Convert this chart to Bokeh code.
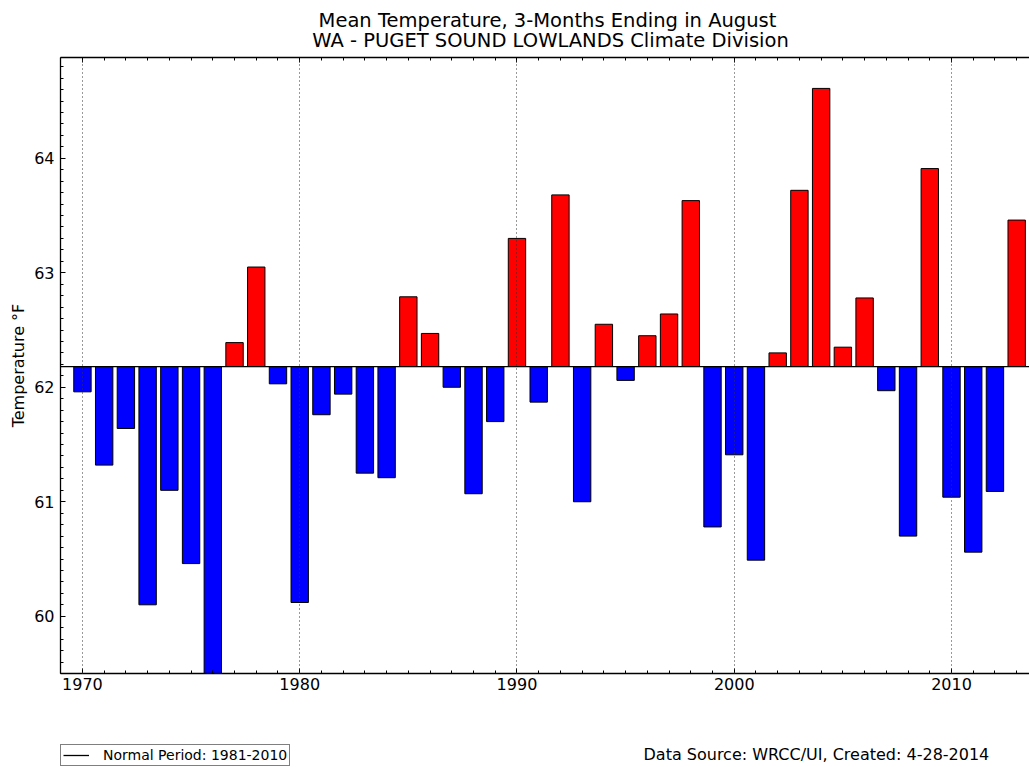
import numpy as np
from bokeh.plotting import figure
from bokeh.layouts import column
from bokeh.models import (Range1d, LinearAxis, SingleIntervalTicker, Label,
                          Legend, LegendItem, ColumnDataSource)
from bokeh.embed import file_html
from bokeh.resources import INLINE

# ---- data ----
years = list(range(1970, 2014))
temps = [61.96, 61.32, 61.64, 60.10, 61.10, 60.46, 59.40, 62.39, 63.05, 62.03,
         60.12, 61.76, 61.94, 61.25, 61.21, 62.79, 62.47, 62.00, 61.07, 61.70,
         63.30, 61.87, 63.68, 61.00, 62.55, 62.06, 62.45, 62.64, 63.63, 60.78,
         61.41, 60.49, 62.30, 63.72, 64.61, 62.35, 62.78, 61.97, 60.70, 63.91,
         61.04, 60.56, 61.09, 63.46]
normal_period = (1981, 2010)
title_line1 = "Mean Temperature, 3-Months Ending in August"
title_line2 = "WA - PUGET SOUND LOWLANDS Climate Division"
y_label = "Temperature °F"
legend_label = "Normal Period: 1981-2010"
source_note = "Data Source: WRCC/UI, Created: 4-28-2014"

normal = float(np.mean([t for y, t in zip(years, temps)
                        if normal_period[0] <= y <= normal_period[1]]))
colors = ["#ff0000" if t > normal else "#0000ff" for t in temps]
src = ColumnDataSource(dict(year=years, temp=temps, color=colors))

FONT = "DejaVu Sans"
W, LEFT = 1029, 60
TOP_H, MAIN_H, BOT_H = 56, 644, 67


def strip(h):
    f = figure(width=W, height=h, title=None, output_backend="svg",
               toolbar_location=None,
               x_range=Range1d(LEFT, W), y_range=Range1d(0, h),
               x_axis_type=None, y_axis_type=None,
               min_border_left=LEFT, min_border_right=0,
               min_border_top=0, min_border_bottom=0)
    f.outline_line_color = None
    f.xgrid.visible = False
    f.ygrid.visible = False
    f.background_fill_color = "white"
    f.border_fill_color = "white"
    return f


# ---- title strip (page px coordinates, y measured from strip bottom) ----
t = strip(TOP_H)
t.add_layout(Label(x=547, y=36, text=title_line1, text_align="center",
                   text_baseline="alphabetic", text_font=FONT,
                   text_font_size="19.5px", text_color="black"))
t.add_layout(Label(x=550, y=16, text=title_line2, text_align="center",
                   text_baseline="alphabetic", text_font=FONT,
                   text_font_size="19.5px", text_color="black"))

# ---- main chart ----
p = figure(width=W, height=MAIN_H, title=None, output_backend="svg",
           toolbar_location=None,
           x_range=Range1d(1968.99, 2013.59), y_range=Range1d(59.5, 64.88),
           min_border_left=LEFT, min_border_right=0, min_border_top=1,
           min_border_bottom=27)
p.outline_line_color = None
p.background_fill_color = "white"
p.border_fill_color = "white"

p.vbar(x="year", width=0.8, bottom=normal, top="temp", fill_color="color",
       line_color="black", line_width=1, source=src)
p.line(x=[years[0] - 1, years[-1] + 1], y=[normal, normal],
       line_color="black", line_width=1.3)

p.xaxis.ticker = SingleIntervalTicker(interval=10, num_minor_ticks=10)
p.yaxis.ticker = SingleIntervalTicker(interval=1, num_minor_ticks=10)

for ax in (p.xaxis[0], p.yaxis[0]):
    ax.major_tick_in = 5
    ax.major_tick_out = 0
    ax.minor_tick_in = 3
    ax.minor_tick_out = 0
    ax.axis_line_color = "black"
    ax.axis_line_width = 1.3
    ax.major_tick_line_color = "black"
    ax.minor_tick_line_color = "black"
    ax.major_label_text_font = FONT
    ax.major_label_text_font_size = "16px"
    ax.major_label_text_color = "black"

p.xaxis.major_label_standoff = 4
p.yaxis.major_label_standoff = 6
p.yaxis.axis_label = y_label
p.yaxis.axis_label_text_font = FONT
p.yaxis.axis_label_text_font_size = "16px"
p.yaxis.axis_label_text_font_style = "normal"
p.yaxis.axis_label_text_color = "black"
p.yaxis.axis_label_standoff = 3

top = LinearAxis(ticker=SingleIntervalTicker(interval=10, num_minor_ticks=10),
                 major_label_text_color=None, major_label_text_font_size="0px",
                 major_label_standoff=0,
                 major_tick_in=5, major_tick_out=0, minor_tick_in=3,
                 minor_tick_out=0, axis_line_color="black", axis_line_width=1.3)
p.add_layout(top, "above")

p.ygrid.visible = False
p.xgrid.grid_line_color = "#333333"
p.xgrid.grid_line_dash = "1 3"
p.xgrid.grid_line_width = 1
p.xgrid.level = "guide"

# ---- bottom strip: legend + data-source note ----
b = strip(BOT_H)
# legend sample of the normal line (its data lies outside this strip's view)
leg_line = b.line(x=[years[0], years[-1]], y=[normal, normal],
                  line_color="black", line_width=1.3)
legend = Legend(items=[LegendItem(label=legend_label, renderers=[leg_line])],
                location=(0, 1), label_text_font=FONT,
                label_text_font_size="14px", label_text_color="black",
                glyph_width=26, glyph_height=14, label_height=14,
                label_standoff=14, padding=2, spacing=0, margin=0,
                border_line_color="black", border_line_width=1,
                background_fill_color="white", background_fill_alpha=1)
b.add_layout(legend, "center")
b.add_layout(Label(x=643, y=13, text=source_note, text_align="left",
                   text_baseline="alphabetic", text_font=FONT,
                   text_font_size="16px", text_color="black"))

layout = column(t, p, b, spacing=0)
open("out.html", "w").write(file_html(layout, INLINE))
